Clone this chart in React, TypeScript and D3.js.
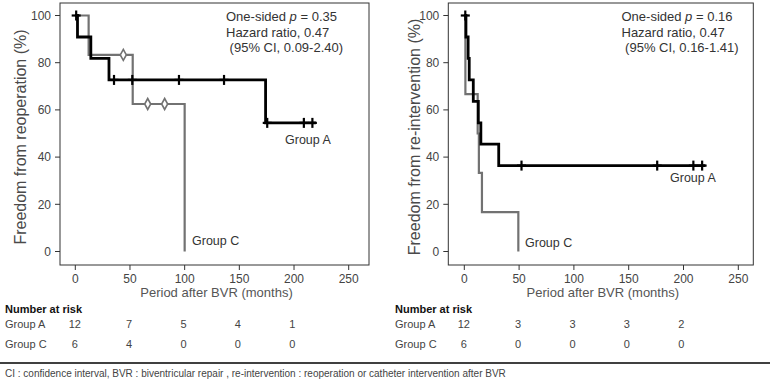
import React, { useEffect } from "react";
import * as d3 from "d3";

// ---------- data ----------
const xTicks = [0, 50, 100, 150, 200, 250];
const yTicks = [0, 20, 40, 60, 80, 100];
const riskTimes = [0, 50, 100, 150, 200];

// Left panel: freedom from reoperation
const reopA_times = [0, 2, 14.2, 30.8, 174, 220];
const reopA_surv = [100, 90.9, 81.8, 72.7, 54.5, 54.5];
const reopA_censor = [0.8, 35.4, 52.1, 94.8, 136, 175.5, 209, 216.8];
const reopC_times = [0, 12.2, 52.5, 100];
const reopC_surv = [100, 83.3, 62.5, 0];
const reopC_censor = [43.9, 66.2, 81.7];
const reopRiskA = [12, 7, 5, 4, 1];
const reopRiskC = [6, 4, 0, 0, 0];
const reopStats = ["0.35", "Hazard ratio, 0.47", " (95% CI, 0.09-2.40)"];

// Right panel: freedom from re-intervention
const reintA_times = [0, 1.5, 3.5, 4.5, 8.2, 12.8, 15.1, 31.4, 220];
const reintA_surv = [100, 90.9, 81.8, 72.7, 63.6, 54.5, 45.5, 36.4, 36.4];
const reintA_censor = [0.9, 52.2, 176, 209, 217];
const reintC_times = [0, 1, 12.2, 13.3, 16.1, 49.3];
const reintC_surv = [100, 66.7, 50, 33.3, 16.7, 0];
const reintC_censor: number[] = [];
const reintRiskA = [12, 3, 3, 3, 2];
const reintRiskC = [6, 0, 0, 0, 0];
const reintStats = ["0.16", "Hazard ratio, 0.47", " (95% CI, 0.16-1.41)"];

const groups = ["Group A", "Group C"];
const footnote =
  "CI : confidence interval, BVR : biventricular repair , re-intervention : reoperation or catheter intervention after BVR";

const FONT = "'Liberation Sans', Arial, sans-serif";

function survAt(times: number[], surv: number[], t: number) {
  let s = surv[0];
  for (let i = 0; i < times.length; i++) if (times[i] <= t) s = surv[i];
  return s;
}

type PanelProps = {
  frameX0: number;
  frameX1: number;
  x0: number;
  x250: number;
  yLabel: string;
  yLabelX: number;
  aT: number[];
  aS: number[];
  aC: number[];
  cT: number[];
  cS: number[];
  cC: number[];
  stats: string[];
  statsX: number;
  labelA: [number, number];
  labelC: [number, number];
  riskA: number[];
  riskC: number[];
  tableX: number;
};

function Panel(p: PanelProps) {
  const x = d3.scaleLinear().domain([0, 250]).range([p.x0, p.x250]);
  const y = d3.scaleLinear().domain([0, 100]).range([251.5, 15.5]);
  const fy0 = 3;
  const fy1 = 265;
  const line = d3
    .line<[number, number]>()
    .x((d) => x(d[0]))
    .y((d) => y(d[1]))
    .curve(d3.curveStepAfter);
  const aPts = p.aT.map((t, i) => [t, p.aS[i]] as [number, number]);
  const cPts = p.cT.map((t, i) => [t, p.cS[i]] as [number, number]);
  const tableScale = d3
    .scaleLinear()
    .domain([0, 200])
    .range([p.x0 - 0.5, p.x0 + 217]);
  const yMid = (fy0 + fy1) / 2 + 3;
  return (
    <g>
      <rect
        x={p.frameX0}
        y={fy0}
        width={p.frameX1 - p.frameX0}
        height={fy1 - fy0}
        fill="none"
        stroke="#333"
        strokeWidth={1}
      />
      {yTicks.map((t) => (
        <g key={"y" + t}>
          <line x1={p.frameX0 - 5} x2={p.frameX0} y1={y(t)} y2={y(t)} stroke="#333" />
          <text
            x={p.frameX0 - 9}
            y={y(t) + 4.3}
            textAnchor="end"
            fontSize={12}
            fill="#444"
            fontFamily={FONT}
          >
            {t}
          </text>
        </g>
      ))}
      {xTicks.map((t) => (
        <g key={"x" + t}>
          <line x1={x(t)} x2={x(t)} y1={fy1} y2={fy1 + 5} stroke="#333" />
          <text
            x={x(t)}
            y={283}
            textAnchor="middle"
            fontSize={12}
            fill="#444"
            fontFamily={FONT}
          >
            {t}
          </text>
        </g>
      ))}
      <text
        x={(p.frameX0 + p.frameX1) / 2 + 2}
        y={297}
        textAnchor="middle"
        fontSize={13}
        fill="#555"
        fontFamily={FONT}
      >
        Period after BVR (months)
      </text>
      <text
        transform={`translate(${p.yLabelX},${yMid}) rotate(-90)`}
        textAnchor="middle"
        fontSize={16}
        fill="#4a4a4a"
        fontFamily={FONT}
      >
        {p.yLabel}
      </text>

      {/* Group C */}
      <path d={line(cPts) || ""} fill="none" stroke="#727272" strokeWidth={2.2} />
      {p.cC.map((t, i) => {
        const cx = x(t);
        const cy = y(survAt(p.cT, p.cS, t));
        return (
          <path
            key={"cc" + i}
            d={`M${cx},${cy - 5.5}L${cx + 3},${cy}L${cx},${cy + 5.5}L${cx - 3},${cy}Z`}
            fill="#fff"
            stroke="#727272"
            strokeWidth={1.6}
          />
        );
      })}
      {/* Group A */}
      <path d={line(aPts) || ""} fill="none" stroke="#000" strokeWidth={2.8} />
      {p.aC.map((t, i) => {
        const cx = x(t);
        const cy = y(survAt(p.aT, p.aS, t));
        return (
          <g key={"ac" + i} stroke="#000" strokeWidth={2.2}>
            <line x1={cx} x2={cx} y1={cy - 5} y2={cy + 5} />
            <line x1={cx - 4.5} x2={cx + 4.5} y1={cy} y2={cy} />
          </g>
        );
      })}

      <text fontSize={13} fill="#333" fontFamily={FONT}>
        <tspan x={p.statsX} y={21}>
          One-sided <tspan fontStyle="italic">p</tspan> = {p.stats[0]}
        </tspan>
        <tspan x={p.statsX} y={36.5}>
          {p.stats[1]}
        </tspan>
        <tspan x={p.statsX} y={52} style={{ whiteSpace: "pre" }}>
          {p.stats[2]}
        </tspan>
      </text>
      <text x={p.labelA[0]} y={p.labelA[1]} fontSize={12.5} fill="#333" fontFamily={FONT}>
        {groups[0]}
      </text>
      <text x={p.labelC[0]} y={p.labelC[1]} fontSize={12.5} fill="#333" fontFamily={FONT}>
        {groups[1]}
      </text>

      {/* number at risk */}
      <text x={p.tableX} y={313} fontSize={11} fontWeight="bold" fill="#111" fontFamily={FONT}>
        Number at risk
      </text>
      {[p.riskA, p.riskC].map((row, r) => (
        <g key={"r" + r}>
          <text x={p.tableX} y={328 + r * 20} fontSize={11} fill="#444" fontFamily={FONT}>
            {groups[r]}
          </text>
          {row.map((v, i) => (
            <text
              key={i}
              x={tableScale(riskTimes[i])}
              y={328 + r * 20}
              textAnchor="middle"
              fontSize={11}
              fill="#444"
              fontFamily={FONT}
            >
              {v}
            </text>
          ))}
        </g>
      ))}
    </g>
  );
}

export default function App() {
  useEffect(() => {
    document.body.style.margin = "0";
  }, []);
  return (
    <svg
      width={770}
      height={380}
      viewBox="0 0 770 380"
      style={{ display: "block", background: "#fff" }}
    >
      <rect width={770} height={380} fill="#fff" />
      <Panel
        frameX0={60}
        frameX1={369}
        x0={75.3}
        x250={348.7}
        yLabel="Freedom from reoperation (%)"
        yLabelX={26}
        aT={reopA_times}
        aS={reopA_surv}
        aC={reopA_censor}
        cT={reopC_times}
        cS={reopC_surv}
        cC={reopC_censor}
        stats={reopStats}
        statsX={226}
        labelA={[285, 144]}
        labelC={[192, 245]}
        riskA={reopRiskA}
        riskC={reopRiskC}
        tableX={5}
      />
      <Panel
        frameX0={448.3}
        frameX1={753.3}
        x0={464.3}
        x250={738.3}
        yLabel="Freedom from re-intervention (%)"
        yLabelX={420}
        aT={reintA_times}
        aS={reintA_surv}
        aC={reintA_censor}
        cT={reintC_times}
        cS={reintC_surv}
        cC={reintC_censor}
        stats={reintStats}
        statsX={621.5}
        labelA={[670, 182]}
        labelC={[525, 247]}
        riskA={reintRiskA}
        riskC={reintRiskC}
        tableX={395}
      />
      <line x1={0} x2={770} y1={363} y2={363} stroke="#000" strokeWidth={1.5} />
      <text x={5} y={377} fontSize={10} fill="#444" fontFamily={FONT}>
        {footnote}
      </text>
    </svg>
  );
}
